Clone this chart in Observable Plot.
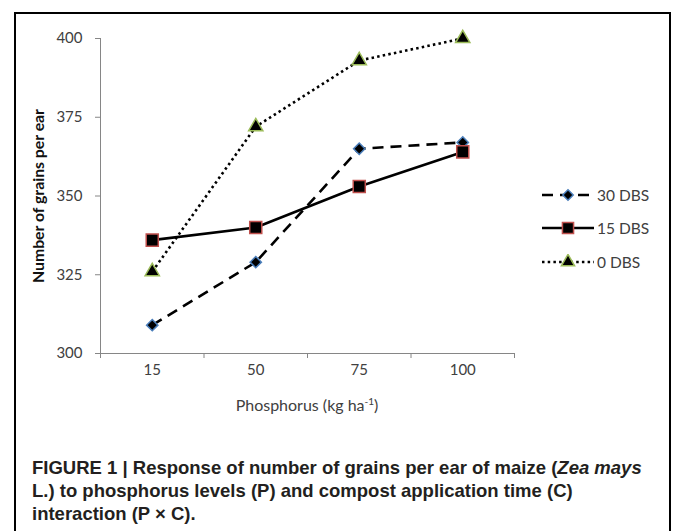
<!DOCTYPE html>
<html><head><meta charset="utf-8">
<script src="https://cdn.jsdelivr.net/npm/d3@7"></script>
<script src="https://cdn.jsdelivr.net/npm/@observablehq/plot@0.6"></script>
<style>
html,body{margin:0;padding:0;background:#fff;overflow:hidden;}
#wrap{position:relative;width:674px;height:531px;overflow:hidden;}
#frame{position:absolute;left:14px;top:12px;width:653px;height:600px;border:2px solid #000;}
#chart{position:absolute;left:0;top:0;}
#ylabel{position:absolute;left:37px;top:196px;transform:translate(-50%,-50%) rotate(-90deg);white-space:nowrap;font:bold 15.8px Lato,sans-serif;color:#111;}
#xlabel{position:absolute;left:307px;top:404px;transform:translate(-50%,-50%);white-space:nowrap;font:16px Lato,sans-serif;color:#404040;}
#xlabel sup{font-size:10px;vertical-align:6px;line-height:0;}
.leg{position:absolute;left:542px;height:16px;display:flex;align-items:center;font:15.5px Lato,sans-serif;color:#404040;white-space:nowrap;}
.leg span{margin-left:3px;}
#caption{position:absolute;left:32px;top:456px;font:bold 18.5px "Liberation Sans",Arial,sans-serif;line-height:23px;color:#231f20;white-space:nowrap;}
</style></head><body>
<div id="wrap">
<div id="frame"></div>
<div id="chart"></div>
<div id="ylabel">Number of grains per ear</div>
<div id="xlabel">Phosphorus (kg ha<sup>-1</sup>)</div>
<div id="legend"></div>
<div id="caption">FIGURE 1 | Response of number of grains per ear of maize (<i>Zea mays</i><br>L.) to phosphorus levels (P) and compost application time (C)<br>interaction (P × C).</div>
</div>
<script>
// ---- data ----
const phosphorus = ["15", "50", "75", "100"];
const seriesNames = ["30 DBS", "15 DBS", "0 DBS"];
const dbs30 = [309, 329, 365, 367];
const dbs15 = [336, 340, 353, 364];
const dbs0 = [326, 372, 393, 400];
const yTicks = [300, 325, 350, 375, 400];

// ---- styles ----
const styles = {
  "30 DBS": {dash: "11,7", symbol: "diamond2", r: 5.1, stroke: "#4a7ebb"},
  "15 DBS": {dash: null, symbol: "square", r: 6.8, stroke: "#c0504d"},
  "0 DBS": {dash: "2.5,3.2", symbol: "triangle", r: 5.3, stroke: "#9bbb59"}
};
const values = {"30 DBS": dbs30, "15 DBS": dbs15, "0 DBS": dbs0};
const rows = seriesNames.map(s => phosphorus.map((p, i) => ({i, p, value: values[s][i], series: s})));

const axisColor = "#868686";
const lineMarks = [];
rows.forEach((data, k) => {
  const st = styles[seriesNames[k]];
  lineMarks.push(Plot.line(data, {x: "i", y: "value", stroke: "#000", strokeWidth: 2.6,
    strokeDasharray: st.dash || undefined, strokeLinecap: "butt"}));
  lineMarks.push(Plot.dot(data, {x: "i", y: "value", symbol: st.symbol, r: st.r, fill: "#000",
    stroke: st.stroke, strokeWidth: 1.5}));
});

const chart = Plot.plot({
  width: 674, height: 400,
  marginLeft: 100, marginRight: 160, marginTop: 38, marginBottom: 47,
  style: {fontFamily: "Lato, sans-serif", fontSize: "15px", color: "#404040", background: "transparent"},
  x: {type: "linear", domain: [-0.5, phosphorus.length - 0.5]},
  y: {domain: [yTicks[0], yTicks[yTicks.length - 1]]},
  marks: [
    Plot.ruleX([-0.5], {stroke: axisColor}),
    Plot.ruleY([yTicks[0]], {stroke: axisColor}),
    Plot.axisY({ticks: yTicks, tickSize: 5, tickPadding: 13, label: null, stroke: axisColor, fill: "#404040"}),
    Plot.axisX({ticks: d3.range(phosphorus.length + 1).map(i => i - 0.5), tickSize: 5, tickFormat: () => "", label: null, stroke: axisColor}),
    Plot.axisX({ticks: d3.range(phosphorus.length), tickSize: 0, tickPadding: 11, tickFormat: i => phosphorus[i], label: null, fill: "#404040"}),
    ...lineMarks
  ]
});
document.getElementById("chart").appendChild(chart);

// ---- legend ----
const legendTops = [195, 228, 262];
const legend = document.getElementById("legend");
seriesNames.forEach((s, k) => {
  const st = styles[s];
  const symType = {diamond2: d3.symbolDiamond2, square: d3.symbolSquare, triangle: d3.symbolTriangle}[st.symbol];
  const div = document.createElement("div");
  div.className = "leg";
  div.style.top = (legendTops[k] - 8) + "px";
  const svg = d3.create("svg").attr("width", 52).attr("height", 16);
  svg.append("line").attr("x1", 0).attr("x2", 52).attr("y1", 8).attr("y2", 8)
    .attr("stroke", "#000").attr("stroke-width", 2.6)
    .attr("stroke-dasharray", st.dash ? st.dash : null);
  svg.append("path").attr("d", d3.symbol(symType, Math.PI * st.r * st.r * 0.85)())
    .attr("transform", "translate(26,8)")
    .attr("fill", "#000").attr("stroke", st.stroke).attr("stroke-width", 1.5);
  div.appendChild(svg.node());
  const t = document.createElement("span");
  t.textContent = s;
  div.appendChild(t);
  legend.appendChild(div);
});
</script>
</body></html>
